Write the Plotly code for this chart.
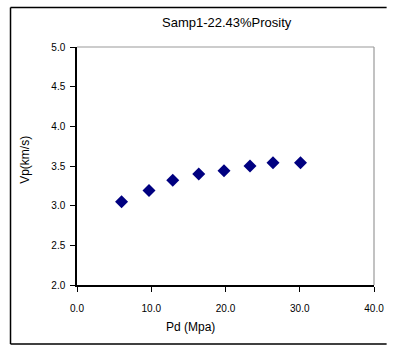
import plotly.graph_objects as go

pd_mpa = [6.0, 9.7, 12.9, 16.4, 19.8, 23.3, 26.4, 30.1]
vp_kms = [3.05, 3.19, 3.32, 3.40, 3.44, 3.50, 3.54, 3.54]
x_ticks = [0, 10, 20, 30, 40]
x_tick_text = ["0.0", "10.0", "20.0", "30.0", "40.0"]
y_ticks = [2.0, 2.5, 3.0, 3.5, 4.0, 4.5, 5.0]
y_tick_text = ["2.0", "2.5", "3.0", "3.5", "4.0", "4.5", "5.0"]

W, H = 396, 345
L, R, T, B = 77, 13, 46.5, 60
pw, ph = W - L - R, H - T - B

def px_x(p):
    return (p - L) / pw

def px_y(p):
    return (H - B - p) / ph

FAM = "Liberation Sans, Arial, sans-serif"
font = dict(family=FAM, size=10, color="black")

fig = go.Figure(go.Scatter(
    x=pd_mpa, y=vp_kms, mode="markers",
    marker=dict(symbol="diamond", size=10, color="#000080", line=dict(width=0)),
    showlegend=False,
))

border = dict(color="black", width=1.5)
fig.update_layout(
    width=W, height=H,
    margin=dict(l=L, r=R, t=T, b=B),
    paper_bgcolor="white", plot_bgcolor="white",
    font=font,
    xaxis=dict(range=[0, 40], tickvals=x_ticks, ticktext=x_tick_text,
               showgrid=False, zeroline=False, showline=True, linecolor="black",
               linewidth=1.5, ticks="outside", ticklen=5, tickcolor="black",
               ticklabelstandoff=8, tickfont=font),
    yaxis=dict(range=[2.0, 5.0], tickvals=y_ticks, ticktext=y_tick_text,
               showgrid=False, zeroline=False, showline=True, linecolor="black",
               linewidth=1.5, ticks="outside", ticklen=5, tickcolor="black",
               ticklabelstandoff=3, tickfont=font),
    shapes=[
        dict(type="line", xref="paper", yref="paper", x0=0, x1=1, y0=1, y1=1,
             line=dict(color="#999999", width=1.2)),
        dict(type="line", xref="paper", yref="paper", x0=1, x1=1, y0=0, y1=1,
             line=dict(color="#999999", width=1.2)),
        dict(type="line", xref="paper", yref="paper",
             x0=px_x(8.5), x1=px_x(8.5), y0=px_y(344), y1=px_y(7), line=border),
        dict(type="line", xref="paper", yref="paper",
             x0=px_x(8.5), x1=px_x(396), y0=px_y(7), y1=px_y(7), line=border),
        dict(type="line", xref="paper", yref="paper",
             x0=px_x(8.5), x1=px_x(396), y0=px_y(344), y1=px_y(344), line=border),
    ],
    annotations=[
        dict(text="Samp1-22.43%Prosity", xref="paper", yref="paper",
             x=px_x(232), y=px_y(22), showarrow=False,
             xanchor="center", yanchor="middle",
             font=dict(family=FAM, size=13, color="black")),
        dict(text="Pd (Mpa)", xref="paper", yref="paper",
             x=px_x(194), y=px_y(327), showarrow=False,
             xanchor="center", yanchor="middle",
             font=dict(family=FAM, size=12, color="black")),
        dict(text="Vp(km/s)", xref="paper", yref="paper",
             x=px_x(24), y=px_y(160), showarrow=False, textangle=-90,
             xanchor="center", yanchor="middle",
             font=dict(family=FAM, size=12, color="black")),
    ],
)

fig.write_html(
    "out.html",
    config={"displayModeBar": False},
    post_script="document.body.style.margin='0';document.body.style.overflow='hidden';",
)
